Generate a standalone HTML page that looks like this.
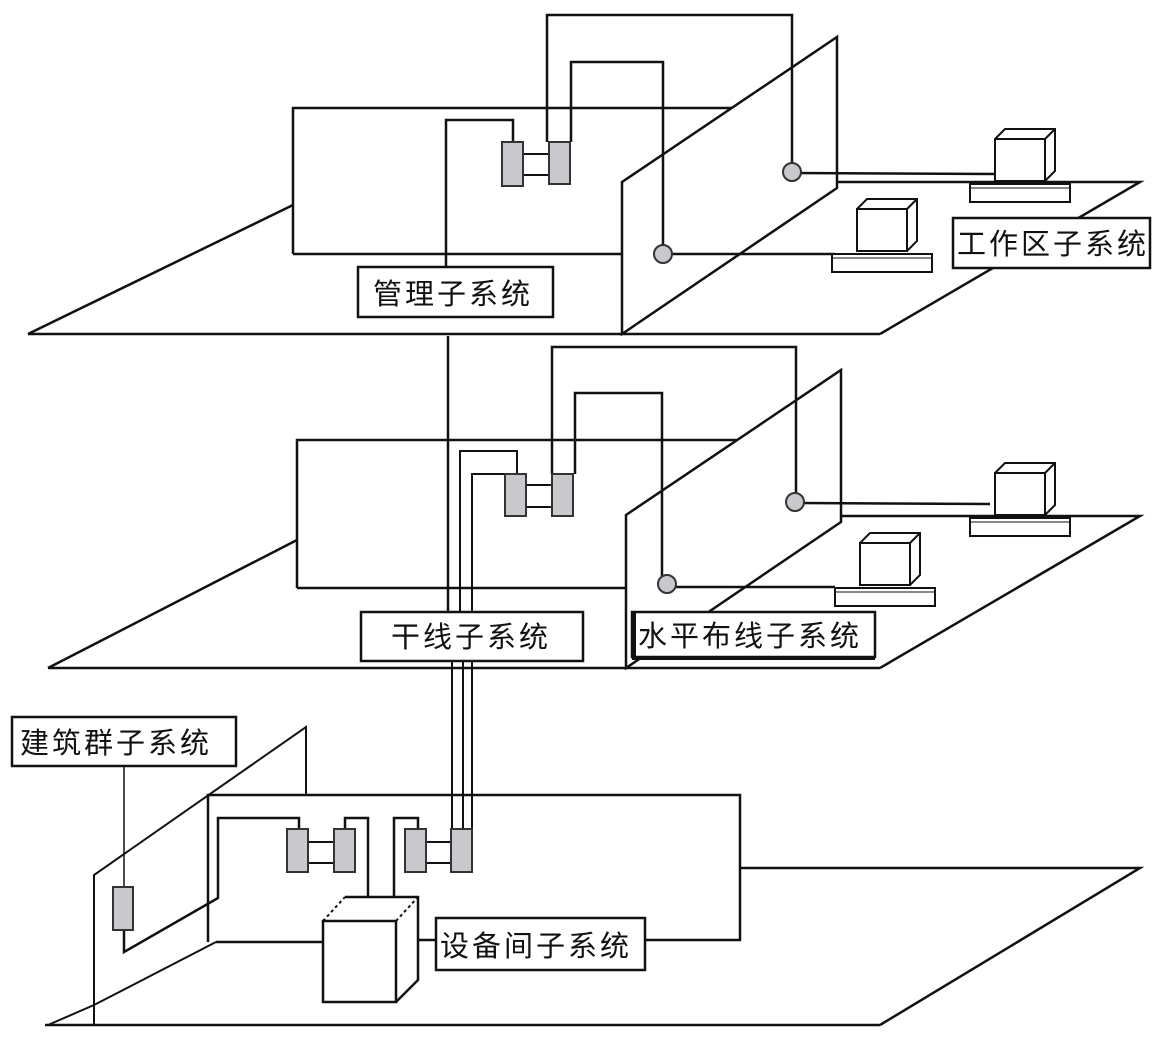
<!DOCTYPE html>
<html><head><meta charset="utf-8"><style>
html,body{margin:0;padding:0;background:#fff;}
svg{display:block;}
text{font-family:"Liberation Sans","Noto Sans CJK SC",sans-serif;font-size:29px;letter-spacing:3px;fill:#111;}
</style></head><body>
<svg width="1172" height="1044" viewBox="0 0 1172 1044" xmlns="http://www.w3.org/2000/svg">
<defs>
<g id="pc">
  <polygon points="0,0 50,0 50,42 0,42" fill="#fff" stroke="#111" stroke-width="2"/>
  <polyline points="0,0 10,-10 60,-10 60,32 50,42" fill="none" stroke="#111" stroke-width="2"/>
  <line x1="50" y1="0" x2="60" y2="-10" stroke="#111" stroke-width="2"/>
  <rect x="-25" y="45" width="100" height="18" fill="#fff" stroke="#111" stroke-width="2"/>
  <line x1="-25" y1="49" x2="75" y2="49" stroke="#111" stroke-width="1"/>
</g>
</defs>
<g fill="none" stroke="#111" stroke-width="2.5">
<!-- ===== FLOOR 1 ===== -->
<polyline points="28,334 293,205"/>
<line x1="28" y1="334" x2="880" y2="334"/>
<polyline points="838,182 1140,182 880,334"/>
<polyline points="293,254 293,108 735,108"/>
<line x1="293" y1="254" x2="622" y2="254"/>
<polygon points="622,182 837,37 837,188 622,334" fill="#fff"/>
<polyline points="446,267 446,120 513,120 513,142"/>
<polyline points="547,142 547,15 792,15 792,172"/>
<polyline points="571,142 571,62 663,62 663,254"/>
<line x1="523" y1="154" x2="549" y2="154" stroke-width="2"/>
<line x1="523" y1="175" x2="549" y2="175" stroke-width="2"/>
<line x1="792" y1="173" x2="995" y2="174"/>
<line x1="663" y1="254" x2="835" y2="254"/>
<!-- floor 2 -->
<polyline points="48,668 297,540"/>
<line x1="48" y1="668" x2="880" y2="668"/>
<polyline points="840,516 1140,516 880,668"/>
<polyline points="297,588 297,440 744,440"/>
<line x1="297" y1="588" x2="626" y2="588"/>
<polygon points="626,515 841,370 841,522 626,668" fill="#fff"/>
<line x1="448" y1="336" x2="448" y2="612"/>
<polyline points="460,612 460,451 517,451 517,474" stroke-width="2"/>
<polyline points="472,612 472,474 526,474" stroke-width="2"/>
<polyline points="552,474 552,347 796,347 796,502"/>
<polyline points="575,474 575,393 662,393 662,584"/>
<line x1="526" y1="485" x2="552" y2="485" stroke-width="2"/>
<line x1="526" y1="507" x2="552" y2="507" stroke-width="2"/>
<line x1="796" y1="503" x2="990" y2="504"/>
<line x1="667" y1="587" x2="835" y2="587"/>
<!-- riser to floor 3 -->
<line x1="452" y1="660" x2="452" y2="829" stroke-width="2"/>
<line x1="463" y1="660" x2="463" y2="829" stroke-width="2"/>
<line x1="472" y1="660" x2="472" y2="829" stroke-width="2"/>
<!-- floor 3 -->
<line x1="45" y1="1025" x2="880" y2="1025"/>
<polyline points="740,868 1140,868 880,1025"/>
<polyline points="208,942 208,795 740,795 740,940 645,940"/>
<line x1="216" y1="942" x2="323" y2="942"/>
<line x1="48" y1="1025" x2="94" y2="1005" stroke-width="2"/>
<polyline points="94,1025 94,875 306,727 306,795" stroke-width="2"/>
<line x1="94" y1="1005" x2="216" y2="942" stroke-width="2"/>
<line x1="124" y1="766" x2="124" y2="888" stroke-width="1.5"/>
<polyline points="124,930 124,952 218,898 218,818 299,818 299,830" stroke-width="2.5"/>
<polyline points="345,830 345,818 368,818 368,898"/>
<polyline points="418,830 418,818 394,818 394,898"/>
<line x1="308" y1="842" x2="334" y2="842" stroke-width="2"/>
<line x1="308" y1="863" x2="334" y2="863" stroke-width="2"/>
<line x1="426" y1="842" x2="451" y2="842" stroke-width="2"/>
<line x1="426" y1="863" x2="451" y2="863" stroke-width="2"/>
<!-- cabinet -->
<polyline points="345,897 418,897 418,980 396,1002" stroke-width="2.5"/>
<line x1="323" y1="921" x2="345" y2="897" stroke-dasharray="3,3" stroke-width="2"/>
<line x1="396" y1="921" x2="418" y2="897" stroke-dasharray="3,3" stroke-width="2"/>
<rect x="323" y="921" width="73" height="81" fill="#fff"/>
<line x1="418" y1="940" x2="436" y2="940"/>
</g>
<g fill="#c8c8cd" stroke="#333" stroke-width="2">
<rect x="502" y="142" width="21" height="44"/>
<rect x="549" y="142" width="21" height="42"/>
<rect x="505" y="474" width="21" height="42"/>
<rect x="552" y="474" width="21" height="42"/>
<rect x="113" y="887" width="20" height="43"/>
<rect x="287" y="829" width="21" height="43"/>
<rect x="334" y="829" width="21" height="43"/>
<rect x="405" y="829" width="21" height="43"/>
<rect x="451" y="829" width="21" height="43"/>
<circle cx="663" cy="254" r="9"/>
<circle cx="792" cy="172" r="9"/>
<circle cx="667" cy="584" r="9"/>
<circle cx="795" cy="502" r="9"/>
</g>
<use href="#pc" x="995" y="139"/>
<use href="#pc" x="857" y="209"/>
<use href="#pc" x="995" y="473"/>
<use href="#pc" x="860" y="543"/>
<g stroke="#111" stroke-width="2.5" fill="#fff">
<rect x="358" y="267" width="195" height="50"/>
<rect x="953" y="218" width="197" height="50"/>
<rect x="361" y="612" width="222" height="49"/>
<rect x="632" y="612" width="243" height="45"/>
<rect x="12" y="717" width="224" height="49"/>
<rect x="436" y="918" width="209" height="52"/>
</g>
<line x1="634" y1="612" x2="634" y2="659" stroke="#111" stroke-width="4"/>
<line x1="632" y1="658" x2="875" y2="658" stroke="#111" stroke-width="4"/>
<text x="373" y="304">管理子系统</text>
<text x="957" y="254">工作区子系统</text>
<text x="391" y="647">干线子系统</text>
<text x="638" y="646">水平布线子系统</text>
<text x="20" y="753">建筑群子系统</text>
<text x="440" y="956">设备间子系统</text>
</svg>
</body></html>
